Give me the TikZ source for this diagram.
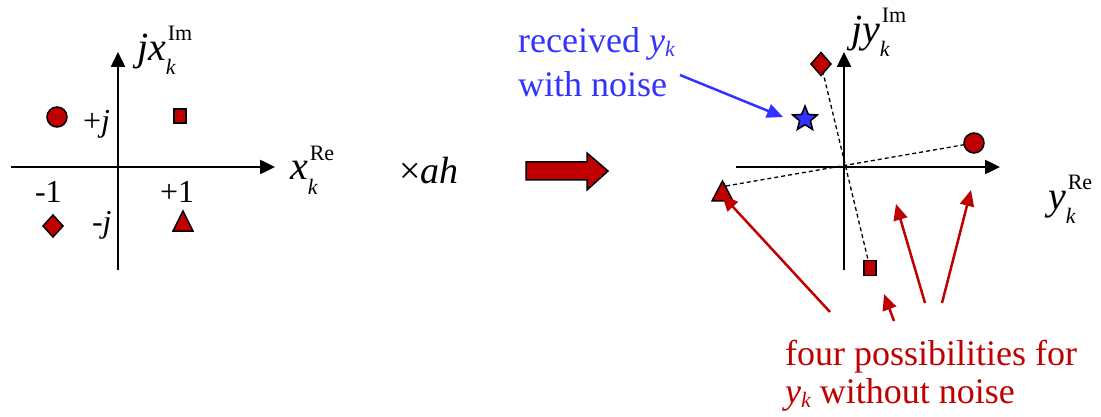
\documentclass[tikz,border=0pt]{standalone}
\usepackage{fontspec}
\setmainfont{Liberation Serif}
\usetikzlibrary{arrows.meta,shapes.geometric}
\definecolor{dred}{HTML}{C00000}
\definecolor{nblue}{HTML}{3333FF}
\newcommand\fsz[1]{\fontsize{#1}{#1}\selectfont}
\newcommand\axlab[3]{{\fsz{40}\itshape #1}\makebox[0pt][l]{\kern2pt\raisebox{20pt}{\fsz{22}#2}}\raisebox{-14pt}{\fsz{22}\itshape #3}}
\newcommand\yk{{\itshape y}\raisebox{-4pt}{\fsz{22}\itshape k}}
\begin{document}
\begin{tikzpicture}[x=1pt,y=-1pt,
  axis/.style={line width=2.5pt,-{Triangle[length=15pt,width=14pt]}},
  mk/.style={fill=dred,draw=black,line width=1.5pt,inner sep=0pt,outer sep=0pt},
  lbl/.style={anchor=base west,inner sep=0pt,outer sep=0pt},
  redarr/.style={draw=dred,line width=2.5pt,-{Triangle[length=16pt,width=14pt]}},
  bluearr/.style={draw=nblue,line width=2.5pt,-{Triangle[length=16pt,width=14pt]}},
  dsh/.style={dash pattern=on 4pt off 3pt,line width=1.3pt}]
\useasboundingbox (0,0) rectangle (1101,417);

% ---------- left constellation ----------
\coordinate (lxl) at (11,167);
\coordinate (lxr) at (275,167);
\coordinate (lyb) at (118,270);
\coordinate (lyt) at (118,52);
\draw[axis] (lxl) -- (lxr);
\draw[axis] (lyb) -- (lyt);
\node[lbl] (lim) at (137,61) {\axlab{jx}{Im}{k}};
\node[lbl] (lre) at (290,180) {\axlab{x}{Re}{k}};

\node[mk,circle,minimum size=20pt] (lc) at (57,117) {};
\node[mk,rectangle,minimum width=12pt,minimum height=14pt] (ls) at (180,116) {};
\node[mk,diamond,minimum width=20pt,minimum height=22pt] (ld) at (53,226) {};
\coordinate (lt) at (183,224);
\filldraw[mk] (183,211) -- (193,231) -- (173,231) -- cycle;

\node[lbl] (lpj) at (83,132) {\fsz{32}+\itshape j};
\node[lbl] (lm1) at (35,203) {\fsz{32}-1};
\node[lbl] (lp1) at (160,203) {\fsz{32}+1};
\node[lbl] (lmj) at (92,233) {\fsz{32}-\itshape j};

% ---------- multiply ----------
\node[lbl] (mul) at (399,183) {\fsz{38}×\itshape ah};

% ---------- big arrow ----------
\filldraw[fill=dred,draw=black,line width=1.5pt]
  (526,162) -- (587,162) -- (587,153) -- (608,171) -- (587,190) -- (587,180) -- (526,180) -- cycle;

% ---------- right constellation ----------
\coordinate (rxl) at (736,167);
\coordinate (rxr) at (1000,167);
\coordinate (ryb) at (844,270);
\coordinate (ryt) at (844,52);
\coordinate (rd) at (821,64);
\coordinate (rs) at (870,268);
\coordinate (rta) at (726,186);
\coordinate (rc) at (974,143);
\draw[dsh] (rd) -- (rs);
\draw[dsh] (rta) -- (rc);
\draw[axis] (rxl) -- (rxr);
\draw[axis] (ryb) -- (ryt);
\node[lbl] (rim) at (851,43) {\axlab{jy}{Im}{k}};
\node[lbl] (rre) at (1048,209) {\axlab{y}{Re}{k}};

\node[mk,diamond,minimum width=20pt,minimum height=23pt] (rdn) at (rd) {};
\node[mk,rectangle,minimum width=12pt,minimum height=15pt] (rsn) at (rs) {};
\node[mk,circle,minimum size=20pt] (rcn) at (rc) {};
\coordinate (rt) at (722,195);
\filldraw[mk] (722.5,181) -- (733,201) -- (712,201) -- cycle;

\node[star,star points=5,star point ratio=2.3,minimum size=26pt,inner sep=0pt,
      fill=nblue,draw=black,line width=1.5pt] (st) at (805,119) {};

% ---------- annotations ----------
\node[anchor=north west,inner sep=0pt,align=left,text=nblue,
      font=\fontsize{36}{44}\selectfont] (rcv) at (518,27)
  {received \yk\\ with noise};
\coordinate (bs) at (680,75);
\draw[bluearr] (bs) -- (783,117);

\node[anchor=north west,inner sep=0pt,align=left,text=dred,
      font=\fontsize{36}{38}\selectfont] (four) at (785,340)
  {four possibilities for\\ \yk\ without noise};

\coordinate (a1) at (830,312);
\coordinate (a2) at (894,321);
\coordinate (a3) at (925,303);
\coordinate (a4) at (942,303);
\draw[redarr] (a1) -- (rt);
\draw[redarr] (a2) -- (884,294);
\draw[redarr] (a3) -- (896,204);
\draw[redarr] (a4) -- (971,190);
\end{tikzpicture}
\end{document}
